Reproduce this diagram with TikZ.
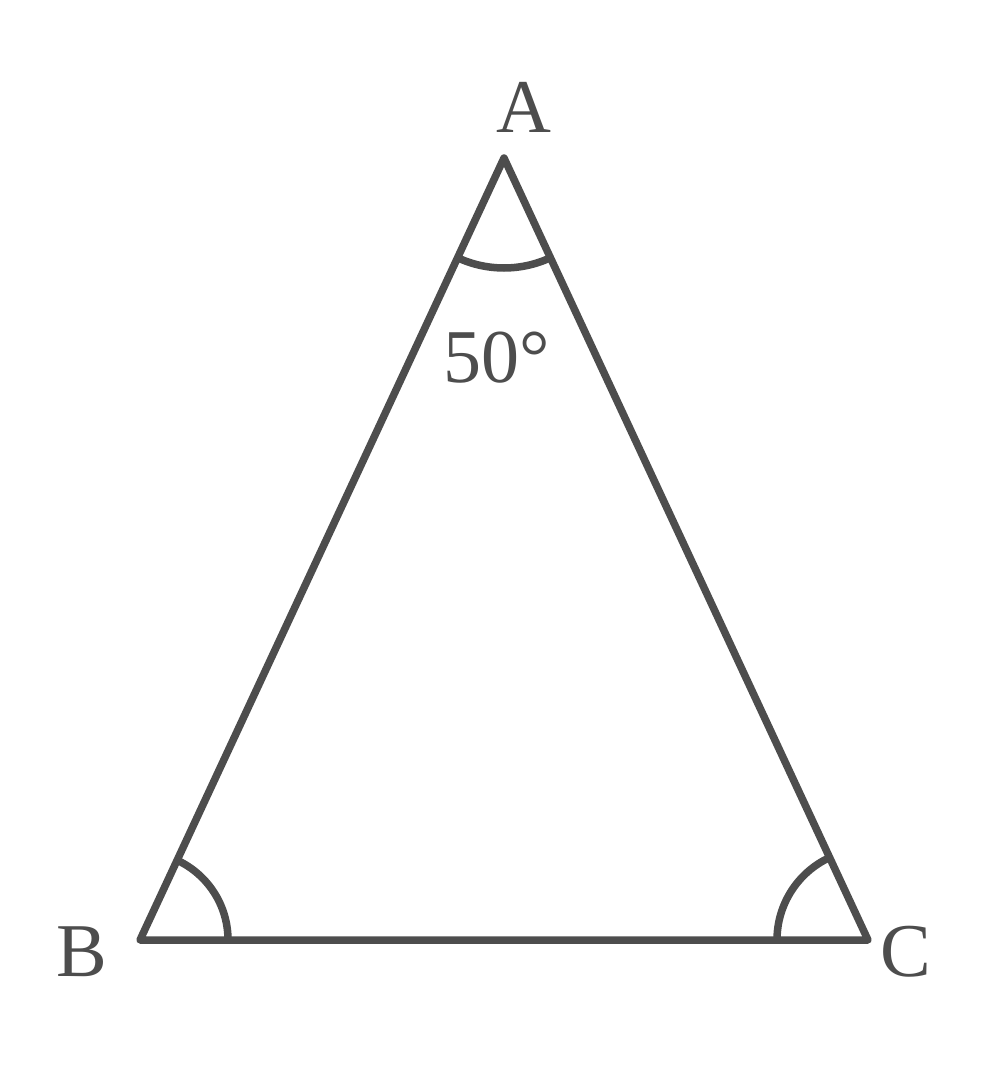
\documentclass[tikz,border=0pt]{standalone}
\usepackage{fontspec}
\setmainfont{Liberation Serif}
\usetikzlibrary{angles}
\definecolor{ink}{HTML}{4D4D4D}
\tikzset{
  edge/.style={draw=ink, line width=7.5pt, line join=round, line cap=round},
  anglemark/.style={draw=ink, line width=7.5pt},
  vlabel/.style={text=ink, font=\fontsize{76}{80}\selectfont, inner sep=0pt}
}
\begin{document}
\begin{tikzpicture}[x=1pt,y=-1pt]
\useasboundingbox (0,0) rectangle (1008,1066);
\fill[white] (0,0) rectangle (1008,1066);
\coordinate (A) at (504,158);
\coordinate (B) at (140,940);
\coordinate (C) at (868,940);
\draw[edge] (A) -- (B) -- (C) -- cycle;
\pic[anglemark, angle radius=110pt] {angle = B--A--C};
\pic[anglemark, angle radius=88pt] {angle = C--B--A};
\pic[anglemark, angle radius=91pt] {angle = A--C--B};
\node[vlabel] (la) at (524,107) {A};
\node[vlabel] (lb) at (82,952) {B};
\node[vlabel] (lc) at (906,952) {C};
\node[vlabel] (ang) at (497,358) {50°};
\end{tikzpicture}
\end{document}
